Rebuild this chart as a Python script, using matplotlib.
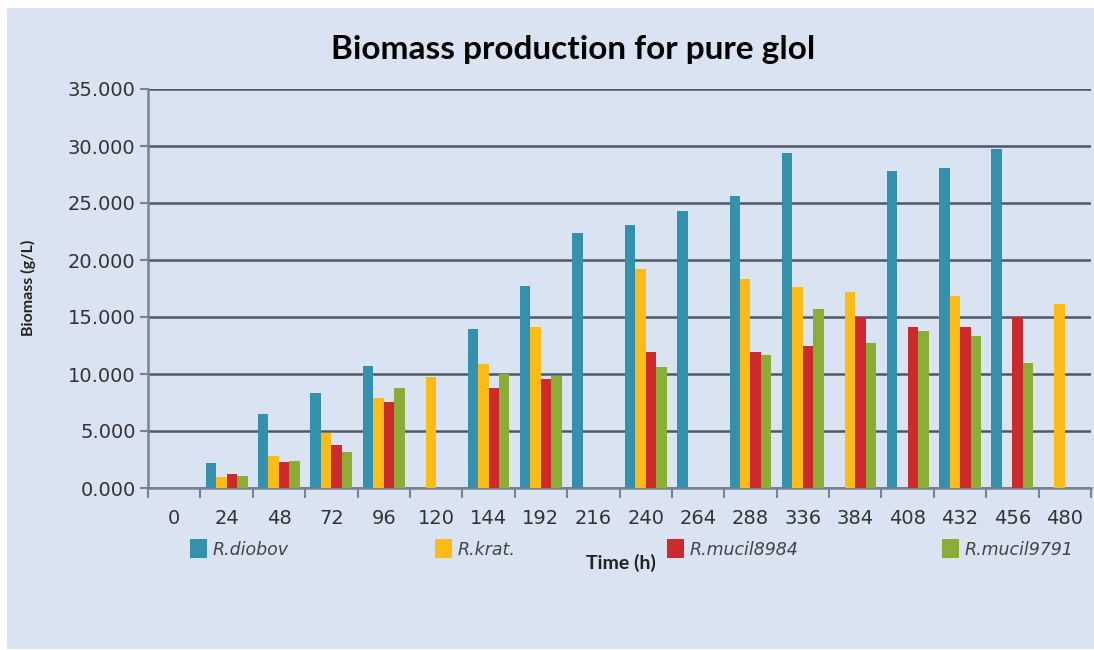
import matplotlib
matplotlib.use("Agg")
import matplotlib.pyplot as plt
from matplotlib.patches import Rectangle
import numpy as np

# Data (g/L); 0 = no bar
times = ["0", "24", "48", "72", "96", "120", "144", "192", "216",
         "240", "264", "288", "336", "384", "408", "432", "456", "480"]
diobov = [0, 2.15, 6.45, 8.35, 10.7, 0, 13.95, 17.75, 22.4,
          23.1, 24.3, 25.6, 29.35, 0, 27.8, 28.05, 29.7, 0]
krat = [0, 0.95, 2.8, 4.8, 7.9, 9.7, 10.9, 14.1, 0,
        19.2, 0, 18.3, 17.65, 17.2, 0, 16.8, 0, 16.1]
mucil8984 = [0, 1.2, 2.3, 3.75, 7.55, 0, 8.8, 9.55, 0,
             11.9, 0, 11.95, 12.5, 15.0, 14.1, 14.15, 15.0, 0]
mucil9791 = [0, 1.05, 2.4, 3.2, 8.8, 0, 10.0, 9.8, 0,
             10.65, 0, 11.7, 15.7, 12.7, 13.75, 13.3, 11.0, 0]

series = [("R.diobov", diobov, "#3391AE"),
          ("R.krat.", krat, "#FDBB16"),
          ("R.mucil8984", mucil8984, "#CC2A2C"),
          ("R.mucil9791", mucil9791, "#8AAE35")]

bg = "#DAE3F2"
grid_col = "#4E5966"
axis_col = "#7A8290"

fig = plt.figure(figsize=(10.94, 6.5), dpi=100)
fig.patch.set_facecolor("white")
fig.patches.append(Rectangle((7 / 1094, 0.002), 1 - 7 / 1094, 1 - 8 / 650 - 0.002,
                             transform=fig.transFigure, facecolor=bg,
                             edgecolor="none", zorder=-10))

ax = fig.add_axes([148 / 1094, (650 - 488) / 650, (1091 - 148) / 1094, (488 - 89) / 650])
ax.set_facecolor(bg)

x = np.arange(len(times))
w = 0.2
for k, (name, vals, col) in enumerate(series):
    ax.bar(x + (k - 1.5) * w, vals, width=w, color=col, label=name, zorder=3)

ax.set_xlim(-0.5, len(times) - 0.5)
ax.set_ylim(0, 35)
ax.set_yticks(np.arange(0, 35.1, 5))
ax.set_yticklabels([f"{v:.3f}" for v in np.arange(0, 35.1, 5)])
ax.set_xticks(x)
ax.set_xticklabels(times)
ax.set_xticks(np.arange(-0.5, len(times), 1), minor=True)

ax.tick_params(axis="x", which="major", length=0, pad=15, labelsize=14, labelcolor="#333333")
ax.tick_params(axis="x", which="minor", length=7, width=1.5, color=axis_col)
ax.tick_params(axis="y", length=6, width=1.5, color=axis_col, labelsize=14,
               labelcolor="#333333", pad=3)

ax.yaxis.grid(True, color=grid_col, linewidth=1.8)
ax.set_axisbelow(True)
for side in ["top", "right"]:
    ax.spines[side].set_visible(False)
ax.spines["left"].set_color(axis_col)
ax.spines["left"].set_linewidth(1.8)
ax.spines["bottom"].set_color(axis_col)
ax.spines["bottom"].set_linewidth(1.8)

fig.text(573 / 1094, 1 - 50 / 650, "Biomass production for pure glol",
         ha="center", va="center", fontsize=24, fontweight="bold", family="Lato")
fig.text(28 / 1094, 1 - 288 / 650, "Biomass (g/L)", rotation=90, ha="center",
         va="center", fontsize=11.5, fontweight="bold", family="Lato", color="#222222")
fig.text(621 / 1094, 1 - 563 / 650, "Time (h)", ha="center", va="center",
         fontsize=14, fontweight="bold", family="Lato", color="#222222")

# legend entries spread along the bottom like the original
leg_x = [190, 435, 667, 942]
handles, labels = ax.get_legend_handles_labels()
for hx, h, lab in zip(leg_x, handles, labels):
    lg = fig.legend([h], [lab], loc="center left",
                    bbox_to_anchor=(hx / 1094, 1 - 549 / 650),
                    frameon=False, handlelength=1.0, handleheight=1.3,
                    handletextpad=0.3, borderpad=0, borderaxespad=0,
                    prop={"style": "italic", "size": 12.5})
    for t in lg.get_texts():
        t.set_color("#444444")

fig.savefig("out.png", dpi=100, facecolor=fig.get_facecolor())
